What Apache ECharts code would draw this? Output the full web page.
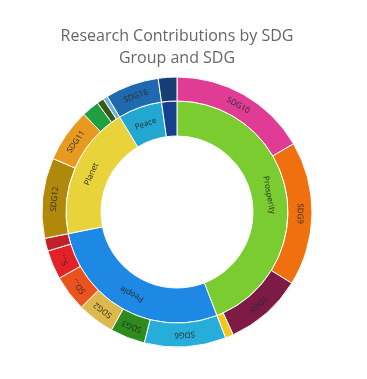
<!DOCTYPE html>
<html>
<head>
<meta charset="utf-8">
<script src="https://cdn.jsdelivr.net/npm/echarts@6/dist/echarts.min.js"></script>
<style>
html,body{margin:0;padding:0;background:#fff;}
#chart{width:367px;height:379px;}
</style>
</head>
<body>
<div id="chart"></div>
<script>
// ---- data ----
const groupNames = ['Prosperity', 'People', 'Planet', 'Peace', 'Partnership'];
const groupColors = ['#7ACC30', '#1E88E5', '#E8D43A', '#22A8D0', '#163F8E'];
const sdgNames = [
  ['SDG10', 'SDG9', 'SDG8', 'SDG7'],
  ['SDG6', 'SDG3', 'SDG2', 'SDG5', 'SDG1', 'SDG4'],
  ['SDG12', 'SDG11', 'SDG13', 'SDG15', 'SDG14'],
  ['SDG16'],
  ['SDG17']
];
const sdgValues = [
  [119, 124, 67, 7],
  [70, 30, 32, 31, 25, 11],
  [69, 46, 15, 6, 4],
  [46],
  [16]
];
const sdgColors = [
  ['#E03C96', '#F0700F', '#7E1A46', '#F5C518'],
  ['#27ADDA', '#2E8B1E', '#DDB84A', '#EC521E', '#E42126', '#C0202C'],
  ['#B0890C', '#E89A20', '#1FA040', '#3A5A12', '#6AB2E2'],
  ['#1F6AAE'],
  ['#163E74']
];
// labels shortened by the original chart
const truncWidth = { 'SDG5': 20, 'SDG1': 13 };

// ---- build ----
const total = sdgValues.flat().reduce((a, b) => a + b, 0);
function rot(start, val) {
  const mid = (start + val / 2) / total * 360;
  let r = -mid;
  while (r <= -180) r += 360;
  return r;
}
let cumG = 0;
const data = groupNames.map((g, gi) => {
  const gStart = cumG;
  const gVal = sdgValues[gi].reduce((a, b) => a + b, 0);
  let cumS = gStart;
  const children = sdgNames[gi].map((s, si) => {
    const v = sdgValues[gi][si];
    const lbl = { rotate: rot(cumS, v) };
    if (truncWidth[s]) { lbl.width = truncWidth[s]; lbl.overflow = 'truncate'; }
    cumS += v;
    return { name: s, value: v, itemStyle: { color: sdgColors[gi][si] }, label: lbl };
  });
  cumG += gVal;
  return {
    name: g,
    itemStyle: { color: groupColors[gi] },
    label: { rotate: rot(gStart, gVal) },
    children: children
  };
});

const chart = echarts.init(document.getElementById('chart'), null, { renderer: 'canvas' });
chart.setOption({
  backgroundColor: '#fff',
  animation: false,
  title: {
    text: 'Research Contributions by SDG\nGroup and SDG',
    left: 177,
    top: 25,
    padding: 0,
    textAlign: 'center',
    textStyle: {
      fontFamily: 'Open Sans',
      fontSize: 16,
      fontWeight: 'normal',
      color: '#666666',
      lineHeight: 22
    }
  },
  series: [{
    type: 'sunburst',
    center: [177, 212],
    radius: [76, 135],
    sort: null,
    nodeClick: false,
    startAngle: 90,
    clockwise: true,
    data: data,
    itemStyle: { borderColor: '#ffffff', borderWidth: 1 },
    label: {
      fontFamily: 'Open Sans',
      fontSize: 8,
      color: '#2a2a2a',
      minAngle: 9
    },
    emphasis: { disabled: true },
    levels: [
      {},
      { r0: 76, r: 111, label: { minAngle: 9 } },
      { r0: 111, r: 135, label: { minAngle: 9 } }
    ]
  }]
});
</script>
</body>
</html>
